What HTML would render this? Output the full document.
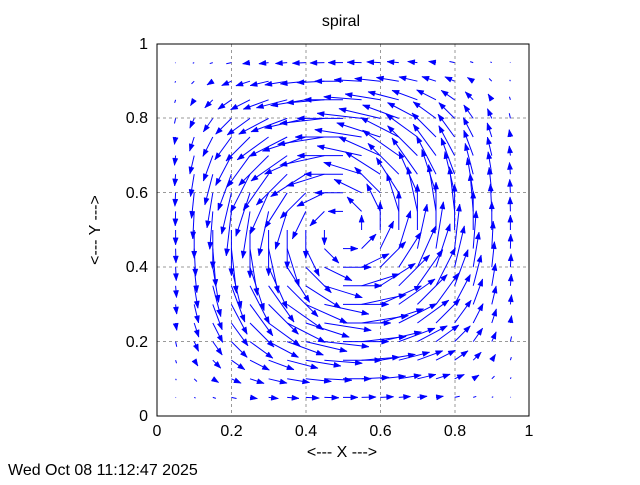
<!DOCTYPE html>
<html><head><meta charset="utf-8"><style>
body{margin:0;background:#fff;}
svg text{font-family:"Liberation Sans",sans-serif;font-size:16px;fill:#000;}
</style></head><body>
<svg id="s" width="640" height="480" xmlns="http://www.w3.org/2000/svg">
<rect width="640" height="480" fill="#fff"/>
<g stroke="#999" stroke-dasharray="3,3" stroke-width="1">
<line x1="231.5" y1="44" x2="231.5" y2="416"/><line x1="306" y1="44" x2="306" y2="416"/>
<line x1="380.5" y1="44" x2="380.5" y2="416"/><line x1="455" y1="44" x2="455" y2="416"/>
<line x1="157" y1="341.5" x2="529" y2="341.5"/><line x1="157" y1="267" x2="529" y2="267"/>
<line x1="157" y1="192.5" x2="529" y2="192.5"/><line x1="157" y1="118" x2="529" y2="118"/>
</g>
<g id="v"></g>
<rect x="157" y="44" width="372" height="372" fill="none" stroke="#000" stroke-width="1"/>
<text x="341" y="26" text-anchor="middle">spiral</text>
<g text-anchor="end">
<text x="148" y="421">0</text><text x="148" y="347">0.2</text><text x="148" y="272">0.4</text>
<text x="148" y="198">0.6</text><text x="148" y="123">0.8</text><text x="148" y="49">1</text>
</g>
<g text-anchor="middle">
<text x="157" y="436">0</text><text x="231.5" y="436">0.2</text><text x="306" y="436">0.4</text>
<text x="380.5" y="436">0.6</text><text x="455" y="436">0.8</text><text x="529" y="436">1</text>
</g>
<text x="342" y="457" text-anchor="middle">&lt;--- X ---&gt;</text>
<text transform="translate(100,230) rotate(-90)" text-anchor="middle">&lt;--- Y ---&gt;</text>
<text x="8" y="475">Wed Oct 08 11:12:47 2025</text>
</svg>
<script>
var g=document.getElementById('v'),h='';
var S=372,X0=157,Y0=416,c=48,P=Math.PI;
for(var i=1;i<=19;i++)for(var j=1;j<=19;j++){
var x=i*0.05,y=j*0.05;
var sx=Math.sin(P*x),sy=Math.sin(P*y);
var u=c*sx*sx*Math.sin(2*P*y), v=-c*sy*sy*Math.sin(2*P*x);
var px=X0+x*S,py=Y0-y*S,qx=px+u,qy=py-v;
var L=Math.hypot(u,v);
if(L<0.5)continue;
h+='<line x1="'+px+'" y1="'+py+'" x2="'+qx+'" y2="'+qy+'" stroke="#00f" stroke-width="1"/>';
if(L>6){var ux=(qx-px)/L,uy=(qy-py)/L,hl=7,hw=2.6;
var bx=qx-ux*hl,by=qy-uy*hl;
h+='<polygon points="'+qx+','+qy+' '+(bx-uy*hw)+','+(by+ux*hw)+' '+(bx+uy*hw)+','+(by-ux*hw)+'" fill="#00f" stroke="#00f" stroke-width="0.5"/>';}
}
g.innerHTML=h;
</script>
</body></html>
